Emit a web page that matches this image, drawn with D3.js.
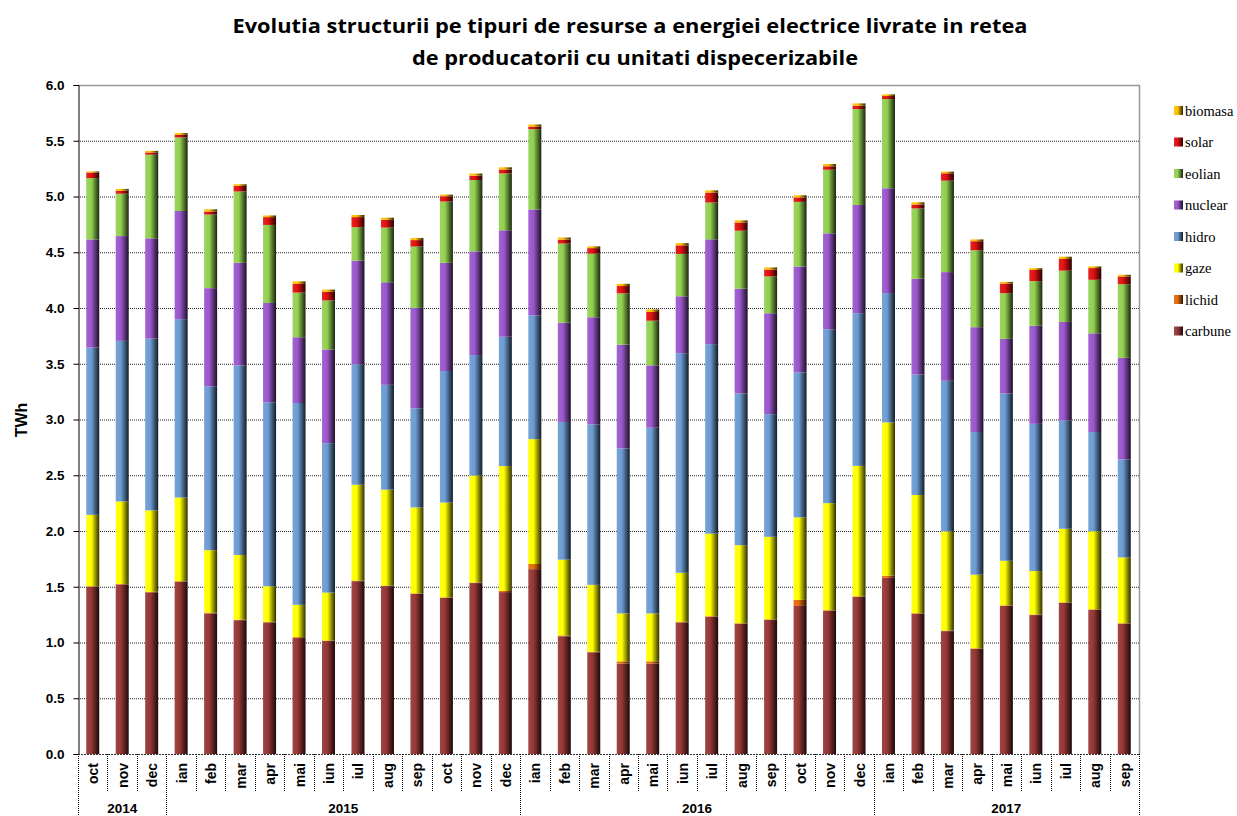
<!DOCTYPE html>
<html lang="ro">
  <head>
    <meta charset="UTF-8" />
    <title>Evolutia structurii</title>
    <style>
      body { margin: 0; background: #fff; }
      svg { display: block; }
      text { font-variant-ligatures: none; }
    </style>
  </head>
  <body>
    <svg width="1237" height="816"></svg>
    <script src="https://cdn.jsdelivr.net/npm/d3@7"></script>
    <script>
      var months = ["oct","nov","dec","ian","feb","mar","apr","mai","iun","iul","aug","sep",
        "oct","nov","dec","ian","feb","mar","apr","mai","iun","iul","aug","sep",
        "oct","nov","dec","ian","feb","mar","apr","mai","iun","iul","aug","sep"];
      var years = [
        { label: "2014", from: 0, to: 3 },
        { label: "2015", from: 3, to: 15 },
        { label: "2016", from: 15, to: 27 },
        { label: "2017", from: 27, to: 36 }
      ];
      var seriesNames = ["carbune","lichid","gaze","hidro","nuclear","eolian","solar","biomasa"];
      var seriesColors = ["#953735","#e46c0a","#ffff00","#6c9bd2","#9a57cc","#92d050","#e01010","#ffc000"];

      var carbune = [1.50,1.52,1.45,1.545,1.26,1.20,1.18,1.04,1.013,1.55,1.506,1.436,
        1.40,1.533,1.452,1.658,1.056,0.912,0.811,0.811,1.18,1.231,1.168,1.203,
        1.328,1.285,1.409,1.58,1.258,1.102,0.943,1.328,1.246,1.355,1.293,1.168];
      var lichid = [0.005,0.005,0.005,0.005,0.008,0.005,0.005,0.008,0.005,0.005,0.005,0.005,
        0.005,0.005,0.01,0.046,0.007,0.005,0.02,0.02,0.005,0.005,0.005,0.005,
        0.054,0.005,0.005,0.019,0.005,0.005,0.005,0.005,0.005,0.005,0.005,0.005];
      var gaze = [0.64,0.74,0.73,0.75,0.56,0.58,0.32,0.29,0.43,0.86,0.86,0.77,
        0.85,0.96,1.12,1.12,0.68,0.60,0.43,0.43,0.44,0.74,0.70,0.74,
        0.74,0.96,1.17,1.375,1.06,0.89,0.66,0.40,0.39,0.66,0.70,0.59];
      var hidro = [1.50,1.44,1.54,1.60,1.47,1.70,1.65,1.81,1.34,1.08,0.94,0.89,
        1.18,1.08,1.16,1.11,1.235,1.44,1.48,1.665,1.97,1.70,1.36,1.10,
        1.30,1.56,1.37,1.16,1.08,1.35,1.28,1.50,1.32,0.97,0.89,0.88];
      var nuclear = [0.97,0.94,0.90,0.97,0.88,0.92,0.89,0.59,0.84,0.93,0.92,0.90,
        0.97,0.93,0.955,0.95,0.89,0.96,0.93,0.56,0.51,0.94,0.94,0.905,
        0.95,0.86,0.97,0.94,0.86,0.975,0.94,0.49,0.88,0.885,0.885,0.91];
      var eolian = [0.55,0.38,0.75,0.66,0.66,0.64,0.70,0.40,0.44,0.30,0.49,0.55,
        0.55,0.64,0.51,0.72,0.71,0.57,0.46,0.40,0.38,0.33,0.52,0.33,
        0.58,0.57,0.86,0.80,0.63,0.82,0.69,0.41,0.40,0.46,0.48,0.66];
      var solar = [0.05,0.027,0.02,0.023,0.027,0.05,0.07,0.078,0.078,0.09,0.07,0.058,
        0.047,0.039,0.035,0.023,0.035,0.05,0.066,0.078,0.077,0.089,0.074,0.062,
        0.039,0.031,0.031,0.027,0.035,0.066,0.081,0.086,0.10,0.105,0.105,0.07];
      var biomasa = [0.01,0.016,0.014,0.016,0.02,0.015,0.015,0.023,0.019,0.019,0.019,0.019,
        0.015,0.019,0.02,0.019,0.019,0.016,0.02,0.023,0.02,0.02,0.019,0.019,
        0.02,0.02,0.02,0.015,0.02,0.015,0.016,0.015,0.016,0.02,0.015,0.015];
      var yTicks = [0,0.5,1,1.5,2,2.5,3,3.5,4,4.5,5,5.5,6];

      var seriesValues = [carbune, lichid, gaze, hidro, nuclear, eolian, solar, biomasa];
      var table = months.map(function(m, i) {
        var row = { idx: i };
        seriesNames.forEach(function(s, k) { row[s] = seriesValues[k][i]; });
        return row;
      });
      var stacked = d3.stack().keys(seriesNames)(table);

      var svg = d3.select("svg");
      var pLeft = 78, pRight = 1139, pTop = 85, pBottom = 754;
      var font = "'Liberation Sans', Arial, sans-serif";

      var x = d3.scaleBand().domain(d3.range(months.length)).range([pLeft, pRight]).paddingInner(0);
      var y = d3.scaleLinear().domain([0, 6]).range([pBottom, pTop]);
      var barW = 13;

      // gradients
      var defs = svg.append("defs");
      seriesColors.forEach(function(c, k) {
        var g = defs.append("linearGradient").attr("id", "g" + k)
          .attr("x1", 0).attr("x2", 1).attr("y1", 0).attr("y2", 0);
        g.append("stop").attr("offset", "0%").attr("stop-color", d3.interpolateRgb(c, "#fff")(0.08));
        g.append("stop").attr("offset", "40%").attr("stop-color", c);
        g.append("stop").attr("offset", "100%").attr("stop-color", d3.interpolateRgb(c, "#000")(0.82));
      });

      // title (stretched wide like the original)
      svg.append("text").attr("x", 630).attr("y", 33).attr("text-anchor", "middle")
        .attr("font-family", "'Open Sans', sans-serif").attr("font-weight", "bold").attr("font-size", 19)
        .attr("textLength", 795).attr("lengthAdjust", "spacingAndGlyphs")
        .text("Evolutia structurii pe tipuri de resurse a energiei electrice livrate in retea");
      svg.append("text").attr("x", 635).attr("y", 65).attr("text-anchor", "middle")
        .attr("font-family", "'Open Sans', sans-serif").attr("font-weight", "bold").attr("font-size", 19)
        .attr("textLength", 446).attr("lengthAdjust", "spacingAndGlyphs")
        .text("de producatorii cu unitati dispecerizabile");

      // grid
      svg.append("g").selectAll("line").data(yTicks.filter(function(t) { return t > 0 && t < 6; }))
        .enter().append("line")
        .attr("x1", pLeft).attr("x2", pRight)
        .attr("y1", function(d) { return y(d) + 0.5; }).attr("y2", function(d) { return y(d) + 0.5; })
        .attr("stroke", "#222").attr("stroke-dasharray", "1,1");

      // plot border
      svg.append("path")
        .attr("d", "M" + pLeft + "," + (pTop + 0.5) + "H" + (pRight + 0.5) + "V" + pBottom)
        .attr("fill", "none").attr("stroke", "#999").attr("stroke-width", 1.5);

      // bars
      svg.append("g").selectAll("g").data(stacked).enter().append("g")
        .attr("fill", function(d, k) { return "url(#g" + k + ")"; })
        .selectAll("rect").data(function(d) { return d; }).enter().append("rect")
        .attr("x", function(d) { return x(d.data.idx) + (x.bandwidth() - barW) / 2; })
        .attr("width", barW)
        .attr("y", function(d) { return y(d[1]); })
        .attr("height", function(d) { return Math.max(0, y(d[0]) - y(d[1])); });

      // y axis
      var yAxis = d3.axisLeft(y).tickValues(yTicks).tickSize(5).tickFormat(d3.format(".1f"));
      var ya = svg.append("g").attr("transform", "translate(" + (pLeft + 0.5) + ",0)").call(yAxis);
      ya.select(".domain").attr("stroke", "#000");
      ya.selectAll("text").attr("font-family", font).attr("font-weight", "bold")
        .attr("font-size", 13.5).attr("fill", "#000").attr("x", -14);
      svg.append("text").attr("transform", "translate(27,420) rotate(-90)")
        .attr("text-anchor", "middle").attr("font-family", font).attr("font-weight", "bold")
        .attr("font-size", 16).text("TWh");

      // x axis line
      svg.append("line").attr("x1", pLeft).attr("x2", pRight)
        .attr("y1", pBottom + 0.5).attr("y2", pBottom + 0.5)
        .attr("stroke", "#333").attr("stroke-dasharray", "2,1");

      // month dividers
      var bounds = d3.range(months.length + 1).map(function(i) {
        return i < months.length ? x(i) : pRight;
      });
      svg.append("g").selectAll("line").data(bounds).enter().append("line")
        .attr("x1", function(d) { return Math.round(d) + 0.5; })
        .attr("x2", function(d) { return Math.round(d) + 0.5; })
        .attr("y1", pBottom).attr("y2", 792)
        .attr("stroke", "#000").attr("stroke-dasharray", "1,1");

      // year dividers
      var yearBounds = [0, 3, 15, 27, 36].map(function(i) { return i < months.length ? x(i) : pRight; });
      svg.append("g").selectAll("line").data(yearBounds).enter().append("line")
        .attr("x1", function(d) { return Math.round(d) + 0.5; })
        .attr("x2", function(d) { return Math.round(d) + 0.5; })
        .attr("y1", 792).attr("y2", 816)
        .attr("stroke", "#000").attr("stroke-dasharray", "1,1");

      // month labels
      svg.append("g").selectAll("text").data(months).enter().append("text")
        .attr("transform", function(d, i) {
          return "translate(" + (x(i) + x.bandwidth() / 2 + 5.5) + ",763) rotate(-90)";
        })
        .attr("text-anchor", "end").attr("font-family", font).attr("font-weight", "bold")
        .attr("font-size", 14).text(function(d) { return d; });

      // year labels
      svg.append("g").selectAll("text").data(years).enter().append("text")
        .attr("x", function(d) {
          var a = x(d.from), b = d.to < months.length ? x(d.to) : pRight;
          return (a + b) / 2;
        })
        .attr("y", 813).attr("text-anchor", "middle").attr("font-family", font)
        .attr("font-weight", "bold").attr("font-size", 13.5).text(function(d) { return d.label; });

      // legend
      var legendOrder = seriesNames.map(function(s, k) { return k; }).reverse();
      var lg = svg.append("g").selectAll("g").data(legendOrder).enter().append("g")
        .attr("transform", function(k, i) { return "translate(1174," + (111 + i * 31.5) + ")"; });
      lg.append("rect").attr("x", 0).attr("y", -5).attr("width", 9).attr("height", 9)
        .attr("fill", function(k) { return "url(#g" + k + ")"; });
      lg.append("text").attr("x", 11).attr("y", 4.5)
        .attr("font-family", "'Liberation Serif', 'Times New Roman', serif")
        .attr("font-size", 14.5).text(function(k) { return seriesNames[k]; });
    </script>
  </body>
</html>
